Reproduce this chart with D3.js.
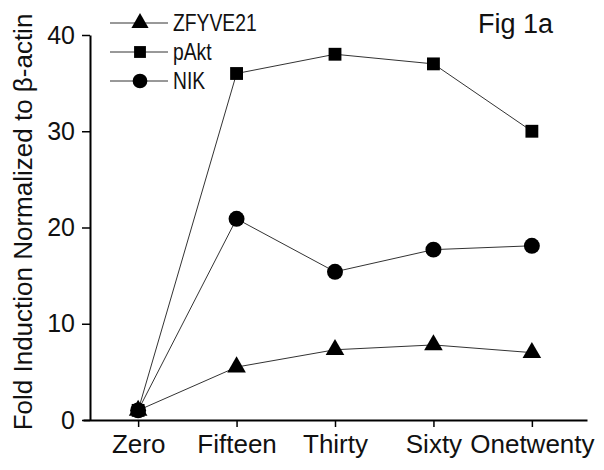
<!DOCTYPE html>
<html>
<head>
<meta charset="utf-8">
<script src="https://cdn.jsdelivr.net/npm/d3@7"></script>
<style>
  body { margin: 0; background: #fff; }
  text { font-family: "Liberation Sans", Arial, sans-serif; fill: #111; }
</style>
</head>
<body>
<svg width="604" height="470"></svg>
<script>
var categories = ["Zero", "Fifteen", "Thirty", "Sixty", "Onetwenty"];
var zfyve21 = [1, 5.5, 7.3, 7.8, 7.0];
var pakt = [1, 36, 38, 37, 30];
var nik = [1, 20.9, 15.4, 17.7, 18.1];
var yTicks = [0, 10, 20, 30, 40];

var series = [
  {id: "ZFYVE21", values: zfyve21, symbol: d3.symbolTriangle, size: 150},
  {id: "pAkt", values: pakt, symbol: d3.symbolSquare, size: 165},
  {id: "NIK", values: nik, symbol: d3.symbolCircle, size: 200}
];

var svg = d3.select("svg");

var x = d3.scalePoint().domain(categories).range([83, 587]).padding(0.56),
  y = d3.scaleLinear().domain([0, 40]).range([420, 35]);

// x axis
svg.append("g")
  .attr("transform", "translate(0,420)")
  .call(d3.axisBottom(x).tickSize(7).tickSizeOuter(0).tickPadding(8))
  .call(g => g.select(".domain").attr("stroke-width", 2))
  .call(g => g.selectAll(".tick line").attr("stroke-width", 1.5))
  .call(g => g.selectAll("text").style("font-size", "26px").attr("fill", "#111"));

// y axis
svg.append("g")
  .attr("transform", "translate(90,0)")
  .call(d3.axisLeft(y).tickValues(yTicks).tickSize(8).tickSizeOuter(0).tickPadding(7))
  .call(g => g.select(".domain").attr("stroke-width", 2))
  .call(g => g.selectAll(".tick line").attr("stroke-width", 1.5))
  .call(g => g.selectAll("text").style("font-size", "25px").attr("fill", "#111"));

svg.append("text")
  .attr("transform", "translate(32,222) rotate(-90)")
  .attr("text-anchor", "middle")
  .style("font-size", "26px")
  .text("Fold Induction Normalized to β-actin");

svg.append("text")
  .attr("x", 478).attr("y", 33)
  .style("font-size", "27px")
  .text("Fig 1a");

var line = d3.line()
  .x((d, i) => x(categories[i]))
  .y(d => y(d));

series.forEach(s => {
  svg.append("path")
    .attr("fill", "none")
    .attr("stroke", "#333")
    .attr("stroke-width", 1)
    .attr("d", line(s.values));

  svg.selectAll(".pt-" + s.id)
    .data(s.values)
    .enter().append("path")
    .attr("transform", (d, i) => "translate(" + x(categories[i]) + "," + y(d) + ")")
    .attr("d", d3.symbol().type(s.symbol).size(s.size))
    .attr("fill", "#000");
});

// legend
var legend = svg.append("g").attr("transform", "translate(110,23)");
series.forEach((s, i) => {
  var row = legend.append("g").attr("transform", "translate(0," + (i * 29) + ")");
  row.append("line").attr("x1", 0).attr("x2", 58).attr("stroke", "#333").attr("stroke-width", 1);
  row.append("path")
    .attr("transform", "translate(30,0)")
    .attr("d", d3.symbol().type(s.symbol).size(s.size * 0.85))
    .attr("fill", "#000");
  row.append("text")
    .attr("transform", "translate(63,0) scale(0.84,1)")
    .attr("dy", "0.35em")
    .style("font-size", "23px")
    .text(s.id);
});
</script>
</body>
</html>
